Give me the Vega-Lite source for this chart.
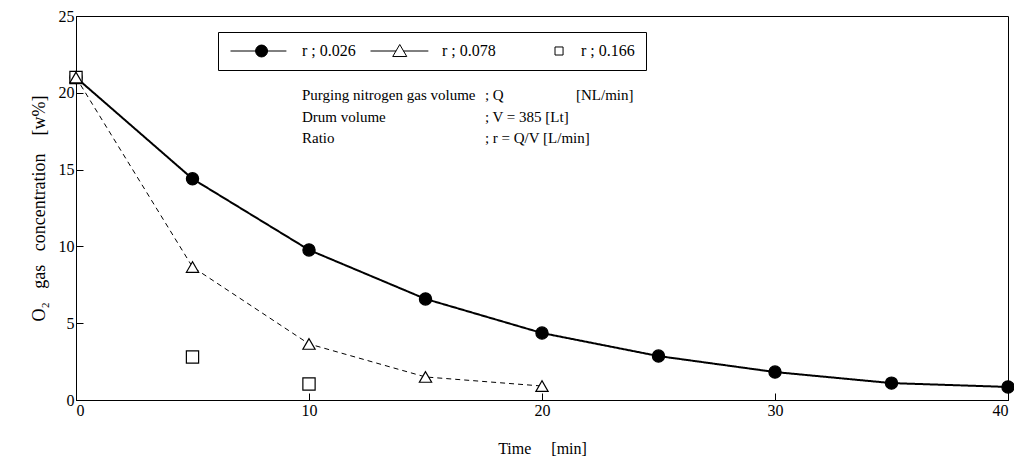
{
  "$schema": "https://vega.github.io/schema/vega-lite/v6.json",
  "width": 932,
  "height": 384,
  "autosize": {"type": "none"},
  "padding": {"left": 76, "top": 16, "right": 6, "bottom": 57},
  "background": "white",
  "config": {
    "font": "Liberation Serif",
    "view": {"stroke": "black", "strokeWidth": 1},
    "axis": {
      "domainColor": "black",
      "tickColor": "black",
      "labelColor": "black",
      "titleColor": "black",
      "labelFont": "Liberation Serif",
      "titleFont": "Liberation Serif",
      "labelFontSize": 16,
      "titleFontSize": 16,
      "titleFontWeight": "normal",
      "grid": false
    },
    "legend": {
      "orient": "none",
      "legendX": 142,
      "legendY": 16,
      "direction": "horizontal",
      "strokeColor": "black",
      "padding": 11,
      "labelFont": "Liberation Serif",
      "labelFontSize": 16,
      "labelColor": "black",
      "labelOffset": 57,
      "columnPadding": 12,
      "symbolSize": 169,
      "symbolOpacity": 1,
      "symbolStrokeWidth": 1
    }
  },
  "resolve": {"scale": {"shape": "independent", "fill": "independent", "stroke": "independent"}},
  "datasets": {
    "obs": [
      {"series": "r ; 0.026", "t": 0, "o2": 21.0},
      {"series": "r ; 0.026", "t": 5, "o2": 14.4},
      {"series": "r ; 0.026", "t": 10, "o2": 9.77},
      {"series": "r ; 0.026", "t": 15, "o2": 6.58},
      {"series": "r ; 0.026", "t": 20, "o2": 4.36},
      {"series": "r ; 0.026", "t": 25, "o2": 2.86},
      {"series": "r ; 0.026", "t": 30, "o2": 1.82},
      {"series": "r ; 0.026", "t": 35, "o2": 1.1},
      {"series": "r ; 0.026", "t": 40, "o2": 0.85},
      {"series": "r ; 0.166", "t": 0, "o2": 21.0},
      {"series": "r ; 0.166", "t": 5, "o2": 2.8},
      {"series": "r ; 0.166", "t": 10, "o2": 1.04},
      {"series": "r ; 0.078", "t": 0, "o2": 21.0},
      {"series": "r ; 0.078", "t": 5, "o2": 8.66},
      {"series": "r ; 0.078", "t": 10, "o2": 3.65},
      {"series": "r ; 0.078", "t": 15, "o2": 1.5},
      {"series": "r ; 0.078", "t": 20, "o2": 0.91}
    ],
    "notes": [
      {"t": 9.7, "c": 19.86, "text": "Purging nitrogen gas volume"},
      {"t": 17.55, "c": 19.86, "text": "; Q"},
      {"t": 21.46, "c": 19.86, "text": "[NL/min]"},
      {"t": 9.7, "c": 18.4, "text": "Drum volume"},
      {"t": 17.55, "c": 18.4, "text": "; V = 385 [Lt]"},
      {"t": 9.7, "c": 17.06, "text": "Ratio"},
      {"t": 17.55, "c": 17.06, "text": "; r = Q/V [L/min]"}
    ]
  },
  "layer": [
    {
      "data": {"name": "obs"},
      "transform": [{"filter": "datum.series !== 'r ; 0.166'"}],
      "mark": {"type": "line", "color": "black"},
      "encoding": {
        "x": {
          "field": "t", "type": "quantitative",
          "scale": {"domain": [0, 40], "nice": false, "zero": false},
          "axis": {"values": [0, 10, 20, 30, 40], "tickSize": -7, "labelPadding": 9, "title": "Time\u00a0\u00a0\u00a0\u00a0\u00a0[min]", "titlePadding": 22}
        },
        "y": {
          "field": "o2", "type": "quantitative",
          "scale": {"domain": [0, 25], "nice": false},
          "axis": {"values": [0, 5, 10, 15, 20, 25], "tickSize": -7, "labelPadding": 9, "title": "O₂\u00a0\u00a0\u00a0gas\u00a0\u00a0\u00a0concentration\u00a0\u00a0\u00a0\u00a0[w%]", "titleFontSize": 18, "titlePadding": 10}
        },
        "strokeDash": {
          "field": "series", "type": "nominal",
          "scale": {"domain": ["r ; 0.026", "r ; 0.078"], "range": [[1, 0], [5, 4]]},
          "legend": null
        },
        "strokeWidth": {
          "field": "series", "type": "nominal",
          "scale": {"domain": ["r ; 0.026", "r ; 0.078"], "range": [2, 1]},
          "legend": null
        }
      }
    },
    {
      "data": {"name": "obs"},
      "mark": {"type": "point", "stroke": "black", "strokeWidth": 1.2, "opacity": 1, "filled": false, "size": 150},
      "encoding": {
        "x": {"field": "t", "type": "quantitative"},
        "y": {"field": "o2", "type": "quantitative"},
        "shape": {
          "field": "series", "type": "nominal",
          "scale": {"domain": ["r ; 0.026", "r ; 0.078", "r ; 0.166"], "range": ["circle", "triangle-up", "square"]},
          "legend": null
        },
        "fill": {"condition": {"test": "datum.series === 'r ; 0.026'", "value": "black"}, "value": "white"}
      }
    },
    {
      "data": {"name": "obs"},
      "mark": {"type": "point", "opacity": 0, "filled": false, "size": 169},
      "encoding": {
        "x": {"field": "t", "type": "quantitative"},
        "y": {"field": "o2", "type": "quantitative"},
        "shape": {
          "field": "series", "type": "nominal",
          "scale": {
            "domain": ["r ; 0.026", "r ; 0.078", "r ; 0.166"],
            "range": [
              "M-1,0H7.6M4.7,0A0.92,0.92,0,1,1,2.86,0A0.92,0.92,0,1,1,4.7,0Z",
              "M-1,0H2.95M4.05,0H7.9M2.42,0.85L3.5,-1.0L4.58,0.85Z",
              "M6.0,-0.62H7.24V0.62H6.0Z"
            ]
          },
          "legend": {"title": null}
        },
        "fill": {
          "field": "series", "type": "nominal",
          "scale": {"domain": ["r ; 0.026", "r ; 0.078", "r ; 0.166"], "range": ["black", "white", "white"]},
          "legend": {"title": null}
        },
        "stroke": {
          "field": "series", "type": "nominal",
          "scale": {"domain": ["r ; 0.026", "r ; 0.078", "r ; 0.166"], "range": ["black", "black", "black"]},
          "legend": {"title": null}
        }
      }
    },
    {
      "data": {"name": "notes"},
      "mark": {"type": "text", "align": "left", "baseline": "middle", "font": "Liberation Serif", "fontSize": 15, "color": "black"},
      "encoding": {
        "x": {"field": "t", "type": "quantitative"},
        "y": {"field": "c", "type": "quantitative"},
        "text": {"field": "text"}
      }
    }
  ]
}
